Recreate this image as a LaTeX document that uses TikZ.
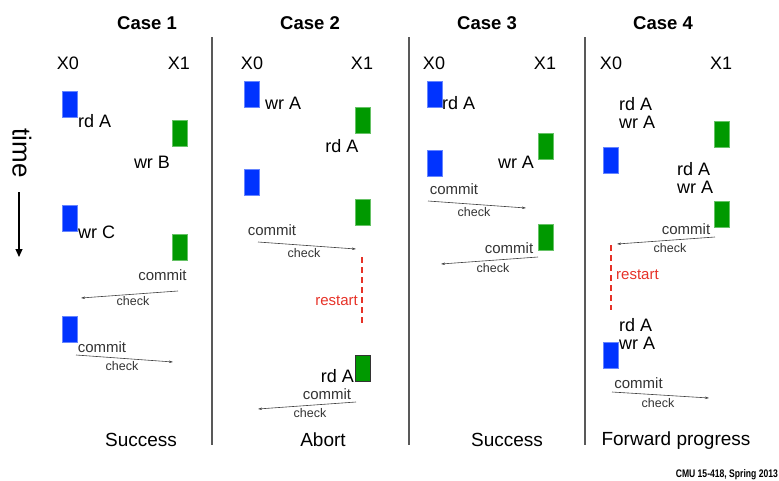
\documentclass[tikz,border=0pt]{standalone}
\usepackage{fontspec}
\setmainfont{Liberation Sans}
\usetikzlibrary{arrows.meta}
\definecolor{xblue}{RGB}{0,51,255}
\definecolor{xgreen}{RGB}{0,153,0}
\definecolor{xred}{RGB}{230,50,40}
\begin{document}
\begin{tikzpicture}[x=1pt,y=-1pt,
  blk/.style={minimum width=15pt,minimum height=26pt,inner sep=0pt,line width=0.8pt},
  bluebox/.style={blk,fill=xblue,draw=xblue!60!white},
  greenbox/.style={blk,fill=xgreen,draw=xgreen!60!white},
  title/.style={inner sep=0pt,font=\fontsize{18.5}{20}\selectfont\bfseries},
  proc/.style={inner sep=0pt,font=\fontsize{18}{20}\selectfont},
  op/.style={inner sep=0pt,font=\fontsize{18}{18}\selectfont,align=left},
  cmt/.style={inner sep=0pt,text=black!80,font=\fontsize{15}{16}\selectfont},
  chk/.style={inner sep=0pt,text=black!80,font=\fontsize{12.5}{13}\selectfont},
  res/.style={inner sep=0pt,font=\fontsize{19}{20}\selectfont},
  msg/.style={black!75,line width=0.6pt,-{Stealth[length=4pt,width=2.5pt]}},
  sep/.style={black!65,line width=1.4pt},
  rst/.style={xred,line width=1.1pt,dash pattern=on 6pt off 4pt}]
\useasboundingbox (0,0) rectangle (779,480);
% separators
\draw[sep] (212,37) -- (212,445);
\draw[sep] (409,37) -- (409,445);
\draw[sep] (585,37) -- (585,445);
% time axis
\node[rotate=-90,inner sep=0pt,font=\fontsize{26}{26}\selectfont] (time) at (22,153) {time};
\coordinate (t0) at (19,192);
\coordinate (t1) at (19,257);
\draw[line width=1.2pt,-{Triangle[length=8pt,width=7pt]}] (t0) -- (t1);

% Case 1
\node[title] (c1) at (147,23) {Case 1};
\node[proc] (c1x0) at (68,63) {X0};
\node[proc] (c1x1) at (179,63) {X1};
\node[bluebox] (b11) at (69.5,104) {};
\node[op,anchor=west] (o11) at (78,121) {rd A};
\node[greenbox] (g11) at (180,133.5) {};
\node[op] (o12) at (152,162) {wr B};
\node[bluebox] (b12) at (69.5,218) {};
\node[op,anchor=west] (o13) at (78,232) {wr C};
\node[greenbox] (g12) at (180,247.5) {};
\node[cmt] (m11) at (162.5,275) {commit};
\coordinate (a11) at (178,291);
\coordinate (a12) at (81,298);
\draw[msg] (a11) -- (a12);
\node[chk] (k11) at (133,301) {check};
\node[bluebox] (b13) at (69.5,329) {};
\node[cmt] (m12) at (102,347) {commit};
\coordinate (a13) at (76,355);
\coordinate (a14) at (173,362);
\draw[msg] (a13) -- (a14);
\node[chk] (k12) at (122,366) {check};
\node[res] (r1) at (141,440) {Success};

% Case 2
\node[title] (c2) at (310,23) {Case 2};
\node[proc] (c2x0) at (252,63) {X0};
\node[proc] (c2x1) at (362,63) {X1};
\node[bluebox] (b21) at (252,94) {};
\node[op,anchor=west] (o21) at (265,103) {wr A};
\node[greenbox] (g21) at (363,120) {};
\node[op] (o22) at (342,146) {rd A};
\node[bluebox] (b22) at (252,182.5) {};
\node[greenbox] (g22) at (363,212) {};
\node[cmt] (m21) at (272,230) {commit};
\coordinate (a21) at (258,242);
\coordinate (a22) at (356,249);
\draw[msg] (a21) -- (a22);
\node[chk] (k21) at (304,253) {check};
\coordinate (d21) at (362,257);
\coordinate (d22) at (362,323);
\draw[rst] (d21) -- (d22);
\node[cmt,text=xred,anchor=east] (s21) at (358,301) {restart};
\node[blk,fill=xgreen,draw=black!80] (g23) at (363,368.5) {};
\node[op,anchor=east] (o23) at (354,376) {rd A};
\node[cmt] (m22) at (327,394) {commit};
\coordinate (a23) at (356,402);
\coordinate (a24) at (258,409);
\draw[msg] (a23) -- (a24);
\node[chk] (k22) at (310,413) {check};
\node[res] (r2) at (323,440) {Abort};

% Case 3
\node[title] (c3) at (487,23) {Case 3};
\node[proc] (c3x0) at (434,63) {X0};
\node[proc] (c3x1) at (545,63) {X1};
\node[bluebox] (b31) at (435,94) {};
\node[op,anchor=west] (o31) at (442,103) {rd A};
\node[greenbox] (g31) at (545.5,146) {};
\node[op] (o32) at (516,162) {wr A};
\node[bluebox] (b32) at (435,163) {};
\node[cmt] (m31) at (454,189) {commit};
\coordinate (a31) at (428,201);
\coordinate (a32) at (526,208);
\draw[msg] (a31) -- (a32);
\node[chk] (k31) at (474,212) {check};
\node[greenbox] (g32) at (545.5,237.5) {};
\node[cmt] (m32) at (509,248) {commit};
\coordinate (a33) at (538,257);
\coordinate (a34) at (441,264);
\draw[msg] (a33) -- (a34);
\node[chk] (k32) at (493,268) {check};
\node[res] (r3) at (507,440) {Success};

% Case 4
\node[title] (c4) at (663,23) {Case 4};
\node[proc] (c4x0) at (611,63) {X0};
\node[proc] (c4x1) at (721,63) {X1};
\node[op,anchor=west] (o41) at (619,113) {rd A\\wr A};
\node[greenbox] (g41) at (722,134) {};
\node[bluebox] (b41) at (611,160) {};
\node[op,anchor=west] (o42) at (677,178) {rd A\\wr A};
\node[greenbox] (g42) at (722,214.5) {};
\node[cmt] (m41) at (686,229) {commit};
\coordinate (a41) at (715,237);
\coordinate (a42) at (617,244);
\draw[msg] (a41) -- (a42);
\node[chk] (k41) at (670,248) {check};
\coordinate (d41) at (611,245);
\coordinate (d42) at (611,310);
\draw[rst] (d41) -- (d42);
\node[cmt,text=xred,anchor=west] (s41) at (616,275) {restart};
\node[op,anchor=west] (o43) at (619,334) {rd A\\wr A};
\node[bluebox] (b42) at (611,355) {};
\node[cmt] (m42) at (638.5,383) {commit};
\coordinate (a43) at (612,392);
\coordinate (a44) at (709,398);
\draw[msg] (a43) -- (a44);
\node[chk] (k42) at (658,403) {check};
\node[res] (r4) at (676,441) {Forward progress};

% footer
\node[anchor=east,inner sep=0pt,xscale=0.78,font=\fontsize{11}{11}\selectfont\bfseries] (foot) at (778,475) {CMU 15-418, Spring 2013};
\end{tikzpicture}
\end{document}
